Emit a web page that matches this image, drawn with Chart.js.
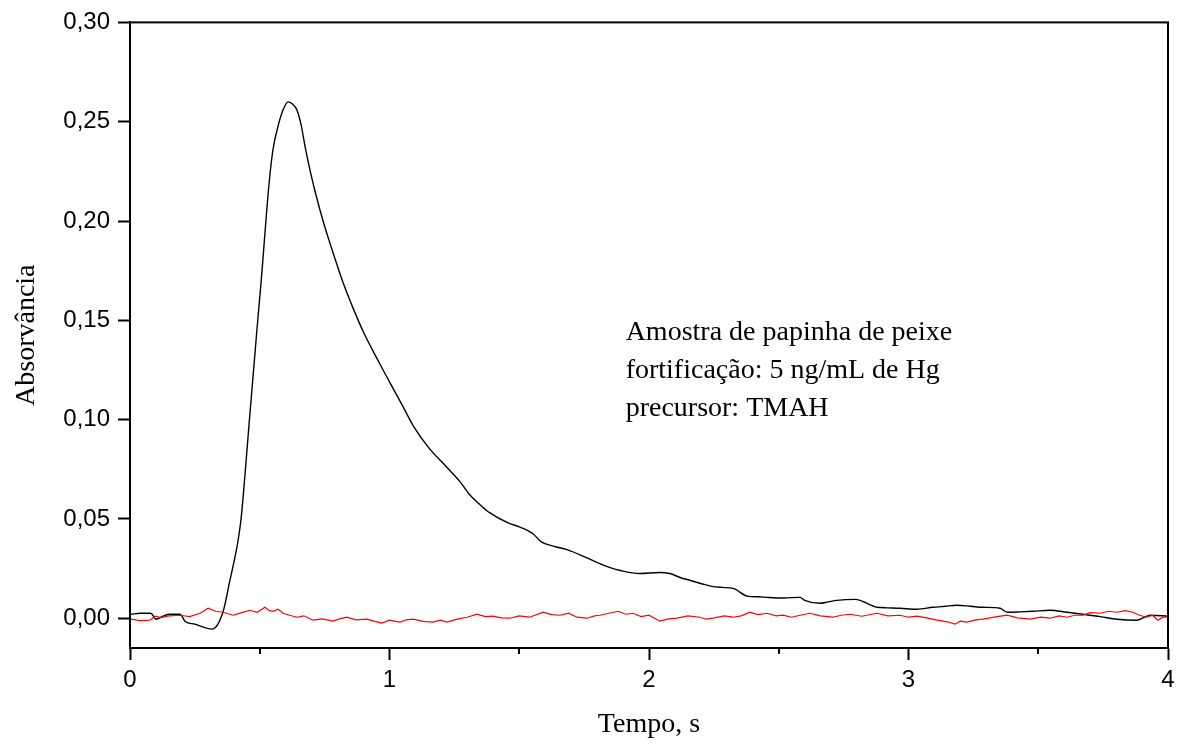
<!DOCTYPE html>
<html>
<head>
<meta charset="utf-8">
<script src="https://cdn.jsdelivr.net/npm/chart.js@4.4.0/dist/chart.umd.min.js"></script>
<style>
  html, body { margin: 0; padding: 0; background: #fff; }
</style>
</head>
<body>
<canvas id="absChart" width="1183" height="747"></canvas>
<script>
// amostra (black) - tempo (s) / absorvancia
const amostraT = [0.004, 0.04, 0.08, 0.10, 0.13, 0.154, 0.193, 0.212, 0.25, 0.316, 0.358, 0.385, 0.40, 0.415, 0.428, 0.443,
  0.459, 0.489, 0.505, 0.536, 0.551, 0.571, 0.59, 0.609, 0.625, 0.643, 0.66, 0.674, 0.693, 0.713,
  0.744, 0.77, 0.79, 0.821, 0.86, 0.90, 0.963, 1.0, 1.05, 1.091, 1.15, 1.221, 1.27, 1.31, 1.35, 1.387, 1.457,
  1.50, 1.553, 1.58, 1.599, 1.64, 1.684, 1.75, 1.81, 1.85, 1.89, 1.965, 2.04, 2.08, 2.12, 2.16, 2.20, 2.243, 2.28, 2.324, 2.382,
  2.42, 2.455, 2.52, 2.582, 2.60, 2.659, 2.69, 2.724, 2.794, 2.879, 2.92, 2.967, 3.033, 3.094, 3.14, 3.187, 3.24, 3.287, 3.353, 3.38,
  3.43, 3.48, 3.545, 3.611, 3.672, 3.74, 3.803, 3.88, 3.931, 4.0];
const amostraA = [0.002, 0.0025, 0.0025, -0.0005, 0.0012, 0.002, 0.002, -0.0015, -0.003, -0.0055, 0.003, 0.019, 0.028, 0.038, 0.05, 0.072,
  0.098, 0.145, 0.169, 0.219, 0.236, 0.248, 0.256, 0.260, 0.259, 0.256, 0.248, 0.238, 0.226, 0.215,
  0.200, 0.189, 0.181, 0.169, 0.156, 0.144, 0.128, 0.119, 0.107, 0.097, 0.086, 0.076, 0.069, 0.062, 0.057, 0.053, 0.048,
  0.046, 0.0425, 0.039, 0.0375, 0.036, 0.0345, 0.031, 0.0275, 0.0255, 0.024, 0.0225, 0.023, 0.0225, 0.0205, 0.019, 0.0175, 0.016, 0.0155, 0.015, 0.011,
  0.0108, 0.0105, 0.0102, 0.0105, 0.009, 0.0075, 0.0082, 0.009, 0.0095, 0.0055, 0.0052, 0.005, 0.0045, 0.0055, 0.006, 0.0065, 0.006, 0.0055, 0.005, 0.003,
  0.0032, 0.0035, 0.004, 0.003, 0.002, 0.0008, -0.0005, -0.001, 0.0015, 0.001];

// branco (red)
const brancoT = [0.004, 0.04, 0.077, 0.096, 0.12, 0.15, 0.193, 0.23, 0.27, 0.301, 0.33, 0.358, 0.397, 0.43,
  0.462, 0.49, 0.52, 0.535, 0.551, 0.57, 0.59, 0.615, 0.644, 0.67, 0.705, 0.74, 0.782, 0.81, 0.836, 0.87,
  0.913, 0.94, 0.971, 1.0, 1.04, 1.065, 1.091, 1.13, 1.168, 1.195, 1.222, 1.26, 1.299, 1.337, 1.37, 1.399,
  1.43, 1.464, 1.50, 1.54, 1.592, 1.625, 1.657, 1.69, 1.723, 1.761, 1.79, 1.811, 1.845, 1.881, 1.91, 1.938,
  1.97, 2.0, 2.042, 2.075, 2.108, 2.15, 2.197, 2.22, 2.247, 2.29, 2.324, 2.355, 2.389, 2.42, 2.455, 2.49,
  2.516, 2.55, 2.582, 2.62, 2.66, 2.709, 2.74, 2.775, 2.82, 2.879, 2.92, 2.967, 3.0, 3.033, 3.07, 3.11,
  3.15, 3.179, 3.2, 3.225, 3.26, 3.287, 3.33, 3.38, 3.42, 3.468, 3.51, 3.545, 3.58, 3.611, 3.64, 3.672,
  3.70, 3.738, 3.77, 3.803, 3.835, 3.865, 3.89, 3.919, 3.94, 3.961, 3.98, 4.0];
const brancoA = [-0.0005, -0.0012, -0.001, 0.001, 0.0003, 0.0012, 0.0015, 0.0008, 0.0025, 0.005, 0.0035, 0.003, 0.0015, 0.0028,
  0.004, 0.003, 0.0055, 0.004, 0.0035, 0.0045, 0.0025, 0.0015, 0.0005, 0.0012, -0.001, -0.0003, -0.0015, -0.0002, 0.0005, -0.0008,
  -0.0005, -0.0015, -0.0025, -0.001, -0.002, -0.0008, -0.0005, -0.0016, -0.002, -0.001, -0.002, -0.0005, 0.0005, 0.002, 0.0008, 0.001,
  0.0002, 0, 0.0012, 0.0005, 0.003, 0.0018, 0.0015, 0.0025, 0.0005, 0, 0.0012, 0.0015, 0.0025, 0.0035, 0.002, 0.0025,
  0.0008, 0.0015, -0.0015, -0.0003, 0, 0.0012, 0.0005, -0.0005, 0, 0.0012, 0.0005, 0.0012, 0.003, 0.0018, 0.0025, 0.0012,
  0.0015, 0.0005, 0.0015, 0.0025, 0.0012, 0.0005, 0.0015, 0.002, 0.001, 0.0025, 0.0012, 0.0015, 0.0005, 0.001, 0.0002, -0.001,
  -0.0018, -0.003, -0.0015, -0.002, -0.0008, -0.0005, 0.0005, 0.0015, 0.0002, -0.0005, 0.0005, 0, 0.0012, 0.0005, 0.0015, 0.0015,
  0.0028, 0.0025, 0.0035, 0.003, 0.0038, 0.003, 0.0015, 0.0005, 0.0015, -0.001, 0.0005, 0.0005];

const xTicks = [0, 1, 2, 3, 4];
const xMinor = [0.5, 1.5, 2.5, 3.5];
const yTicks = [0, 0.05, 0.10, 0.15, 0.20, 0.25, 0.30];
const infoLines = ['Amostra de papinha de peixe', 'fortificação: 5 ng/mL de Hg', 'precursor: TMAH'];

function pts(t, a) {
  return t.map((v, i) => ({ x: v, y: a[i] }));
}

// box + minor ticks + text block
const extras = {
  id: 'extras',
  afterDraw(chart) {
    const ctx = chart.ctx;
    const area = chart.chartArea;
    const xs = chart.scales.x;
    const ys = chart.scales.y;
    ctx.save();
    ctx.strokeStyle = '#000';
    ctx.lineWidth = 2;
    ctx.strokeRect(area.left, area.top, area.right - area.left, area.bottom - area.top);
    ctx.beginPath();
    xMinor.forEach(v => {
      const px = Math.round(xs.getPixelForValue(v));
      ctx.moveTo(px, area.bottom);
      ctx.lineTo(px, area.bottom + 6);
    });
    ctx.stroke();
    ctx.fillStyle = '#000';
    ctx.font = '28px "Liberation Serif", "Times New Roman", serif';
    ctx.textBaseline = 'middle';
    const x0 = xs.getPixelForValue(1.91);
    infoLines.forEach((s, i) => {
      ctx.fillText(s, x0, ys.getPixelForValue(0.1437 - i * 0.019));
    });
    ctx.restore();
  }
};

new Chart(document.getElementById('absChart'), {
  type: 'line',
  data: {
    datasets: [
      { data: pts(brancoT, brancoA), borderColor: '#ff0000', borderWidth: 1.2, pointRadius: 0, tension: 0 },
      { data: pts(amostraT, amostraA), borderColor: '#000', borderWidth: 1.4, pointRadius: 0, cubicInterpolationMode: 'monotone' }
    ]
  },
  options: {
    responsive: false,
    animation: false,
    devicePixelRatio: 1,
    layout: { padding: { left: 0, right: 15, top: 20, bottom: 0 } },
    plugins: { legend: { display: false }, tooltip: { enabled: false } },
    scales: {
      x: {
        type: 'linear',
        min: 0,
        max: 4,
        afterBuildTicks: s => { s.ticks = xTicks.map(v => ({ value: v })); },
        afterFit: s => { s.height = 99; },
        grid: { drawOnChartArea: false, tickLength: 12, tickWidth: 2, tickColor: '#000' },
        border: { display: true, color: '#000', width: 2 },
        ticks: { color: '#000', padding: 6, font: { family: 'Liberation Sans, Arial', size: 24 }, callback: v => String(v) },
        title: { display: true, text: 'Tempo, s', color: '#000', padding: { top: 0, bottom: 6 },
          font: { family: 'Liberation Serif, Times New Roman', size: 28 } }
      },
      y: {
        min: -0.015,
        max: 0.30,
        afterBuildTicks: s => { s.ticks = yTicks.map(v => ({ value: v })); },
        afterFit: s => { s.width = 130; },
        grid: { drawOnChartArea: false, tickLength: 12, tickWidth: 2, tickColor: '#000' },
        border: { display: true, color: '#000', width: 2 },
        ticks: { color: '#000', padding: 8, font: { family: 'Liberation Sans, Arial', size: 24 },
          callback: v => v.toFixed(2).replace('.', ',') },
        title: { display: true, text: 'Absorvância', color: '#000', padding: { top: 10, bottom: 0 },
          font: { family: 'Liberation Serif, Times New Roman', size: 28 } }
      }
    }
  },
  plugins: [extras]
});
</script>
</body>
</html>
